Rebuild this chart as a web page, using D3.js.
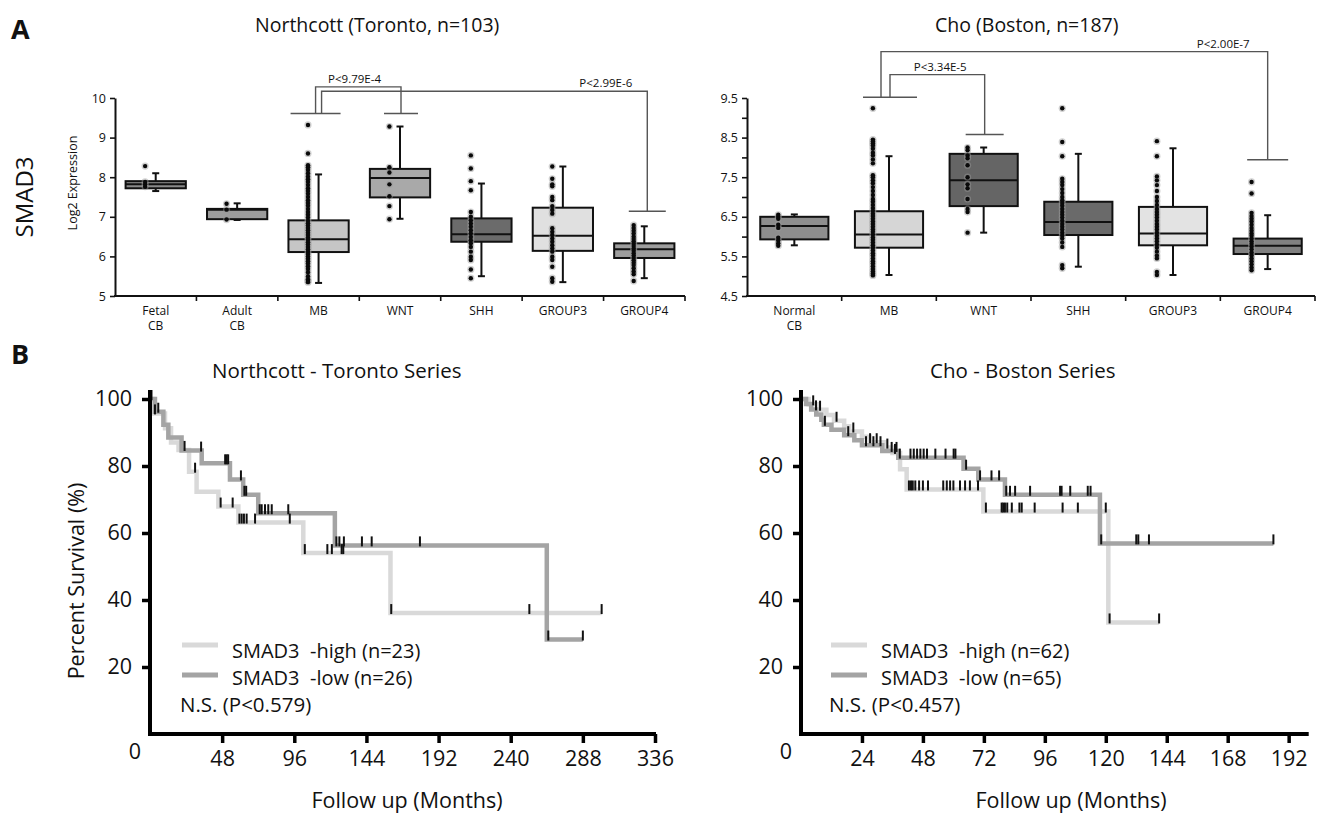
<!DOCTYPE html>
<html>
<head>
<meta charset="utf-8">
<script src="https://cdn.jsdelivr.net/npm/d3@7"></script>
<style>
  body { margin: 0; background: #fff; }
  svg { display: block; }
  text { font-family: "Open Sans", sans-serif; fill: #111; }
</style>
</head>
<body>
<svg id="fig" width="1336" height="817"></svg>
<script>
// ---------- A: box plots, Northcott (Toronto) ----------
const torCats = ["Fetal CB", "Adult CB", "MB", "WNT", "SHH", "GROUP3", "GROUP4"];
const torQ1 = [7.72, 6.94, 6.11, 7.49, 6.37, 6.14, 5.96];
const torMed = [7.82, 7.18, 6.43, 7.98, 6.56, 6.52, 6.18];
const torQ3 = [7.90, 7.20, 6.91, 8.21, 6.96, 7.23, 6.33];
const torLo = [7.65, 6.92, 5.33, 6.95, 5.50, 5.35, 5.45];
const torHi = [8.10, 7.34, 8.07, 9.28, 7.84, 8.27, 6.76];
const torFetalPts = [8.28, 7.88, 7.82, 7.76];
const torAdultPts = [7.33, 7.18, 6.93];
const torMbPts = [9.32, 8.6, 8.3, 8.25, 8.18, 8.1, 8.02, 7.95, 7.88, 7.8, 7.72, 7.65, 7.58, 7.5,
  7.42, 7.35, 7.28, 7.2, 7.12, 7.05, 6.98, 6.9, 6.84, 6.78, 6.72, 6.66, 6.6, 6.54, 6.48, 6.42,
  6.36, 6.3, 6.24, 6.18, 6.12, 6.06, 6.0, 5.94, 5.88, 5.82, 5.75, 5.68, 5.6, 5.5, 5.42, 5.38, 5.35];
const torWntPts = [9.28, 8.25, 8.12, 7.82, 7.52, 7.27, 6.94];
const torShhPts = [8.55, 8.22, 7.9, 7.67, 7.12, 7.0, 6.91, 6.83, 6.75, 6.66, 6.58, 6.49, 6.41,
  6.33, 6.24, 6.12, 5.99, 5.91, 5.67, 5.45];
const torG3Pts = [8.27, 7.96, 7.82, 7.77, 7.5, 7.42, 7.27, 7.17, 7.08, 6.71, 6.62, 6.54, 6.45,
  6.37, 6.28, 6.2, 6.12, 5.99, 5.91, 5.74, 5.45, 5.36];
const torG4Pts = [6.79, 6.72, 6.65, 6.58, 6.5, 6.44, 6.38, 6.32, 6.26, 6.2, 6.14, 6.08, 6.02,
  5.96, 5.9, 5.84, 5.78, 5.7, 5.62, 5.55, 5.38];
const torYTicks = [5, 6, 7, 8, 9, 10];

// ---------- A: box plots, Cho (Boston) ----------
const choCats = ["Normal CB", "MB", "WNT", "SHH", "GROUP3", "GROUP4"];
const choQ1 = [5.93, 5.72, 6.77, 6.04, 5.78, 5.56];
const choMed = [6.27, 6.05, 7.42, 6.37, 6.08, 5.77];
const choQ3 = [6.50, 6.64, 8.09, 6.88, 6.75, 5.95];
const choLo = [5.78, 5.03, 6.10, 5.24, 5.03, 5.18];
const choHi = [6.56, 8.03, 8.25, 8.09, 8.23, 6.54];
const choNormalPts = [6.55, 6.5, 6.45, 6.3, 6.22, 5.97, 5.9, 5.83, 5.77];
const choMbPts = [9.24, 8.45, 8.4, 8.35, 8.3, 8.22, 8.12, 8.05, 7.95, 7.85, 7.55, 7.5, 7.42, 7.35,
  7.25, 7.15, 7.05, 6.95, 6.88, 6.8, 6.72, 6.65, 6.58, 6.52, 6.45, 6.38, 6.32, 6.25, 6.18, 6.12,
  6.05, 5.98, 5.92, 5.85, 5.78, 5.72, 5.65, 5.58, 5.52, 5.45, 5.38, 5.32, 5.25, 5.18, 5.12, 5.06, 5.02];
const choWntPts = [8.25, 8.18, 8.05, 7.98, 7.8, 7.5, 7.32, 7.22, 6.95, 6.7, 6.62, 6.1];
const choShhPts = [9.24, 8.39, 8.03, 7.46, 7.38, 7.3, 7.2, 7.1, 7.0, 6.92, 6.85, 6.78, 6.7, 6.62,
  6.55, 6.48, 6.4, 6.32, 6.25, 6.18, 6.1, 6.02, 5.95, 5.85, 5.74, 5.28, 5.2];
const choG3Pts = [8.41, 8.03, 7.52, 7.42, 7.3, 7.15, 7.0, 6.9, 6.8, 6.7, 6.62, 6.55, 6.48, 6.4,
  6.32, 6.25, 6.18, 6.1, 6.02, 5.95, 5.88, 5.8, 5.72, 5.62, 5.52, 5.45, 5.11, 5.03];
const choG4Pts = [7.38, 7.09, 6.6, 6.52, 6.45, 6.38, 6.3, 6.22, 6.15, 6.08, 6.02, 5.95, 5.88,
  5.82, 5.75, 5.68, 5.6, 5.52, 5.45, 5.38, 5.3, 5.22, 5.15];
const choYTicks = [4.5, 5, 5.5, 6, 6.5, 7, 7.5, 8, 8.5, 9, 9.5];
const choYLabels = [4.5, 5.5, 6.5, 7.5, 8.5, 9.5];

// ---------- B: Kaplan-Meier, Northcott (Toronto) ----------
const torHighT = [2.2, 10, 14, 19, 26, 31, 45.5, 58.8, 102, 160];
const torHighS = [95.7, 91.3, 87.0, 84.8, 78.3, 72.3, 67.9, 63.1, 54.0, 36.1];
const torHighEnd = 300.5;
const torHighCens = [3.3, 23, 30, 47, 55, 59.5, 61, 62.5, 64.3, 69.9, 93, 103, 118, 121,
  127.5, 128.6, 160.5, 252.4, 300.5];
const torLowT = [3.3, 8.9, 12.2, 21, 34.4, 53.2, 62, 72, 123, 264];
const torLowS = [96.2, 92.3, 88.5, 84.6, 80.8, 76.0, 71.4, 65.9, 56.3, 28.2];
const torLowEnd = 288;
const torLowCens = [1, 5.5, 34, 50, 51, 52, 60.5, 62.8, 64, 73, 74.3, 76.5, 78.7, 81, 92,
  124, 126, 129, 141, 147.5, 179.6, 265, 288];
const torXTicks = [48, 96, 144, 192, 240, 288, 336];

// ---------- B: Kaplan-Meier, Cho (Boston) ----------
const choHighT = [3, 7, 10, 13, 17, 19, 24, 27, 33, 36, 39, 41.6, 71.8, 121];
const choHighS = [98.4, 96.8, 95.2, 93.5, 91.9, 90.3, 88.7, 87.1, 85.5, 83.9, 79.0, 73.0, 66.4, 33.3];
const choHighEnd = 141;
const choHighCens = [4.8, 7.5, 14, 20.6, 27.2, 29.8, 34, 37, 42.5, 43.3, 44, 45, 46.5, 48, 50,
  56, 57.4, 58.7, 60, 62.6, 64.6, 66.5, 69.7, 72.8, 79, 79.6, 80.3, 81.2, 83, 86, 86.9, 92,
  103, 109, 120, 121.5, 141];
const choLowT = [2, 4, 6, 8, 9, 12, 17, 21, 24, 32, 38.3, 64, 69.8, 80.3, 117.7];
const choLowS = [98.5, 96.9, 95.4, 93.8, 92.3, 90.8, 89.2, 87.7, 86.2, 84.5, 82.5, 79.2, 76.0, 71.4, 56.9];
const choLowEnd = 186;
const choLowCens = [5.9, 9.4, 18.6, 25.6, 28.5, 31.3, 35.7, 37.6, 38.9, 43.1, 44.4, 45.7, 47,
  48.3, 49.6, 52.9, 56.9, 60.1, 60.8, 65, 70.5, 75, 78, 80.8, 82.3, 84.3, 90.2, 102, 102.6,
  106, 112.9, 114, 118.2, 132, 132.8, 137, 186];
const choXTicks = [24, 48, 72, 96, 120, 144, 168, 192];

const FONT = "'Open Sans', sans-serif";
const svg = d3.select("#fig");

function boxPanel(p) {
  const x = d3.scaleBand().domain(p.cats).range(p.xRange);
  const y = d3.scaleLinear().domain(p.yDomain).range([296, 98]);
  const bw = x.bandwidth();
  const cx = (c) => x(c) + bw / 2;
  const g = svg.append("g");

  svg.append("text").attr("x", p.titleX).attr("y", 32).attr("font-size", 19.5).text(p.title);

  const yAx = g.append("g").attr("transform", `translate(${p.xRange[0]},0)`)
    .call(d3.axisLeft(y).tickValues(p.yTicks).tickSize(5).tickSizeOuter(0).tickPadding(4)
      .tickFormat((d) => (p.yLabels.includes(d) ? String(d) : "")));
  yAx.select(".domain").attr("stroke", "#111").attr("stroke-width", 2);
  yAx.selectAll(".tick line").attr("stroke", "#111").attr("stroke-width", 1.6);
  yAx.selectAll(".tick text").attr("font-size", 12.5).attr("font-family", FONT).attr("fill", "#222");

  const y0 = y(p.yDomain[0]);
  g.append("line").attr("x1", p.xRange[0] - 1).attr("x2", p.xRange[1])
    .attr("y1", y0).attr("y2", y0).attr("stroke", "#111").attr("stroke-width", 2);
  g.selectAll(".xt").data(p.cats).join("line")
    .attr("x1", (c) => x(c) + bw).attr("x2", (c) => x(c) + bw)
    .attr("y1", y0).attr("y2", y0 + 5).attr("stroke", "#111").attr("stroke-width", 1.6);
  const lab = g.selectAll(".xl").data(p.cats).join("text")
    .attr("x", cx).attr("y", 315).attr("text-anchor", "middle").attr("font-size", 12).attr("fill", "#222");
  lab.each(function (c) {
    c.split(" ").forEach((w, i) => {
      d3.select(this).append("tspan").attr("x", cx(c)).attr("dy", i ? 15 : 0).text(w);
    });
  });

  const half = bw * p.boxFrac / 2;
  p.cats.forEach((c, i) => {
    const xc = cx(c);
    // whiskers
    [[p.q3[i], p.hi[i]], [p.q1[i], p.lo[i]]].forEach(([a, b]) => {
      g.append("line").attr("x1", xc).attr("x2", xc).attr("y1", y(a)).attr("y2", y(b))
        .attr("stroke", "#111").attr("stroke-width", 2);
      g.append("line").attr("x1", xc - 3.5).attr("x2", xc + 3.5).attr("y1", y(b)).attr("y2", y(b))
        .attr("stroke", "#111").attr("stroke-width", 2);
    });
    g.append("rect").attr("x", xc - half).attr("width", half * 2)
      .attr("y", y(p.q3[i])).attr("height", y(p.q1[i]) - y(p.q3[i]))
      .attr("fill", p.fills[i]).attr("stroke", "#111").attr("stroke-width", 2);
    g.append("line").attr("x1", xc - half).attr("x2", xc + half)
      .attr("y1", y(p.med[i])).attr("y2", y(p.med[i])).attr("stroke", "#111").attr("stroke-width", 2);
    const px = xc + bw * p.dotShift;
    g.selectAll(null).data(p.points[i]).join("circle")
      .attr("cx", px).attr("cy", (v) => y(v)).attr("r", 3.6).attr("fill", "#999").attr("opacity", 0.45);
    g.selectAll(null).data(p.points[i]).join("circle")
      .attr("cx", px).attr("cy", (v) => y(v)).attr("r", 2.2).attr("fill", "#0a0a0a");
  });

  // significance brackets
  const sg = g.append("g").attr("stroke", "#555").attr("stroke-width", 1.4).attr("fill", "none");
  p.capFrom.forEach((cp) => {
    sg.append("line").attr("x1", cx(cp.cat) + cp.dx - cp.w / 2).attr("x2", cx(cp.cat) + cp.dx + cp.w / 2)
      .attr("y1", y(cp.v)).attr("y2", y(cp.v));
  });
  p.brackets.forEach((b) => {
    const xa = cx(b.from) + b.fromDx, xb = cx(b.to) + b.toDx;
    sg.append("path").attr("d", `M${xa},${y(b.fromCap)}V${y(b.top)}H${xb}V${y(b.toCap)}`);
    sg.append("line").attr("x1", xb - b.capW / 2).attr("x2", xb + b.capW / 2)
      .attr("y1", y(b.toCap)).attr("y2", y(b.toCap));
    g.append("text").attr("x", xb - b.labelGap).attr("y", y(b.top) - 4).attr("text-anchor", "end")
      .attr("font-size", 11.5).attr("fill", "#222").text(b.label);
  });
}

function survAt(t, T, S) {
  let s = 100;
  T.forEach((tt, i) => { if (tt <= t) s = S[i]; });
  return s;
}

function kmPanel(p) {
  const x = d3.scaleLinear().domain([0, p.xMax]).range(p.xRange);
  const y = d3.scaleLinear().domain([0, 100]).range([734, 399]);
  const g = svg.append("g");
  const x0 = x(0), y0 = y(0);

  svg.append("text").attr("x", p.titleX).attr("y", 378).attr("font-size", 20.5).text(p.title);

  const line = d3.line().x((d) => x(d[0])).y((d) => y(d[1])).curve(d3.curveStepAfter);
  p.series.forEach((s) => {
    const pts = [[0, 100]].concat(s.T.map((t, i) => [t, s.S[i]]), [[s.end, s.S[s.S.length - 1]]]);
    g.append("path").datum(pts).attr("d", line).attr("fill", "none")
      .attr("stroke", s.color).attr("stroke-width", 4.5);
  });
  p.series.forEach((s) => {
    g.selectAll(null).data(s.cens).join("line")
      .attr("x1", (t) => x(t)).attr("x2", (t) => x(t))
      .attr("y1", (t) => y(survAt(t, s.T, s.S)) - 9).attr("y2", (t) => y(survAt(t, s.T, s.S)) + 1)
      .attr("stroke", "#111").attr("stroke-width", 2);
  });

  // axes
  g.append("line").attr("x1", x0).attr("x2", x0).attr("y1", y0 + 2).attr("y2", y(100) - 9)
    .attr("stroke", "#000").attr("stroke-width", 4);
  g.append("line").attr("x1", x0 - 2).attr("x2", p.xRange[1] + 1).attr("y1", y0).attr("y2", y0)
    .attr("stroke", "#000").attr("stroke-width", 4);
  const xa = g.append("g").attr("transform", `translate(0,${y0})`)
    .call(d3.axisBottom(x).tickValues(p.xTicks).tickSize(9).tickSizeOuter(0).tickPadding(8));
  const ya = g.append("g").attr("transform", `translate(${x0},0)`)
    .call(d3.axisLeft(y).tickValues([20, 40, 60, 80, 100]).tickSize(8).tickSizeOuter(0).tickPadding(10));
  [xa, ya].forEach((a) => {
    a.select(".domain").remove();
    a.selectAll(".tick line").attr("stroke", "#000").attr("stroke-width", 3.5);
    a.selectAll(".tick text").attr("font-size", 21.5).attr("font-family", FONT).attr("fill", "#111");
  });
  g.append("text").attr("x", x0 - 15).attr("y", y0 + 25).attr("text-anchor", "middle")
    .attr("font-size", 21.5).text("0");

  g.append("text").attr("x", p.xlabX).attr("y", 808).attr("text-anchor", "middle")
    .attr("font-size", 21.5).text("Follow up (Months)");

  // legend
  p.series.forEach((s, i) => {
    const ly = 645 + i * 30;
    g.append("line").attr("x1", p.legX).attr("x2", p.legX + 36).attr("y1", ly).attr("y2", ly)
      .attr("stroke", s.color).attr("stroke-width", 5);
    g.append("text").attr("x", p.legX + 50).attr("y", 657.5 + i * 27).attr("font-size", 20)
      .style("white-space", "pre").text(s.name);
  });
  g.append("text").attr("x", p.legX - 2).attr("y", 711.5).attr("font-size", 20.5).text(p.pText);
}

// panel letters and side labels
svg.append("text").attr("x", 11).attr("y", 39).attr("font-family", "'Liberation Sans', Arial, sans-serif")
  .attr("font-weight", "bold").attr("font-size", 27).text("A");
svg.append("text").attr("x", 11).attr("y", 364).attr("font-family", "'Liberation Sans', Arial, sans-serif")
  .attr("font-weight", "bold").attr("font-size", 27).text("B");
svg.append("text").attr("transform", "translate(33,197) rotate(-90)").attr("text-anchor", "middle")
  .attr("font-size", 24).text("SMAD3");
svg.append("text").attr("transform", "translate(77,183) rotate(-90)").attr("text-anchor", "middle")
  .attr("font-size", 12.5).text("Log2 Expression");
svg.append("text").attr("transform", "translate(84,581) rotate(-90)").attr("text-anchor", "middle")
  .attr("font-size", 21.5).text("Percent Survival (%)");

boxPanel({
  title: "Northcott (Toronto, n=103)", titleX: 255,
  cats: torCats, xRange: [115, 685], yDomain: [5, 10], yTicks: torYTicks, yLabels: torYTicks,
  q1: torQ1, med: torMed, q3: torQ3, lo: torLo, hi: torHi,
  points: [torFetalPts, torAdultPts, torMbPts, torWntPts, torShhPts, torG3Pts, torG4Pts],
  fills: ["#8a8a8a", "#9c9c9c", "#c6c6c6", "#a9a9a9", "#6b6b6b", "#e0e0e0", "#9e9e9e"],
  boxFrac: 0.74, dotShift: -0.13,
  capFrom: [{ cat: "MB", dx: -3, w: 50, v: 9.61 }],
  brackets: [
    { from: "MB", fromDx: -3, to: "WNT", toDx: 1, top: 10.28, fromCap: 9.61, toCap: 9.61, capW: 34, label: "P<9.79E-4", labelGap: 20 },
    { from: "MB", fromDx: 3, to: "GROUP4", toDx: 3, top: 10.17, fromCap: 9.61, toCap: 7.14, capW: 37, label: "P<2.99E-6", labelGap: 15 },
  ],
});

boxPanel({
  title: "Cho (Boston, n=187)", titleX: 935,
  cats: choCats, xRange: [747, 1315], yDomain: [4.5, 9.5], yTicks: choYTicks, yLabels: choYLabels,
  q1: choQ1, med: choMed, q3: choQ3, lo: choLo, hi: choHi,
  points: [choNormalPts, choMbPts, choWntPts, choShhPts, choG3Pts, choG4Pts],
  fills: ["#8e8e8e", "#d6d6d6", "#656565", "#6a6a6a", "#e3e3e3", "#808080"],
  boxFrac: 0.72, dotShift: -0.17,
  capFrom: [{ cat: "MB", dx: 1, w: 54, v: 9.52 }],
  brackets: [
    { from: "MB", fromDx: 1, to: "WNT", toDx: 1, top: 10.09, fromCap: 9.52, toCap: 8.58, capW: 38, label: "P<3.34E-5", labelGap: 18 },
    { from: "MB", fromDx: -8, to: "GROUP4", toDx: 0, top: 10.67, fromCap: 9.52, toCap: 7.94, capW: 41, label: "P<2.00E-7", labelGap: 18 },
  ],
});

kmPanel({
  title: "Northcott - Toronto Series", titleX: 212, xlabX: 407,
  xMax: 336, xRange: [150, 655], xTicks: torXTicks, legX: 182, pText: "N.S. (P<0.579)",
  series: [
    { name: "SMAD3  -high (n=23)", color: "#d9d9d9", T: torHighT, S: torHighS, end: torHighEnd, cens: torHighCens },
    { name: "SMAD3  -low (n=26)", color: "#a4a4a4", T: torLowT, S: torLowS, end: torLowEnd, cens: torLowCens },
  ],
});

kmPanel({
  title: "Cho - Boston Series", titleX: 930, xlabX: 1071,
  xMax: 199.5, xRange: [801, 1307.7], xTicks: choXTicks, legX: 831, pText: "N.S. (P<0.457)",
  series: [
    { name: "SMAD3  -high (n=62)", color: "#d9d9d9", T: choHighT, S: choHighS, end: choHighEnd, cens: choHighCens },
    { name: "SMAD3  -low (n=65)", color: "#a4a4a4", T: choLowT, S: choLowS, end: choLowEnd, cens: choLowCens },
  ],
});
</script>
</body>
</html>
